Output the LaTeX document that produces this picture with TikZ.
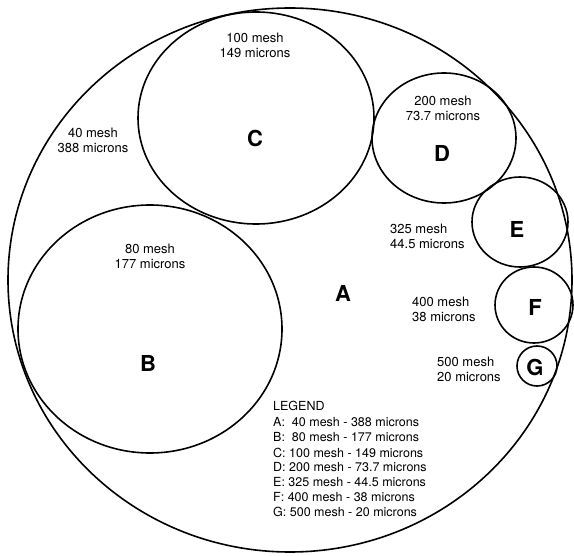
\documentclass[tikz,border=0pt]{standalone}
\usepackage{fontspec}
\setmainfont{TeX Gyre Heros}
\begin{document}
\begin{tikzpicture}[x=1pt,y=-1pt,
  ring/.style={line width=1.6pt},
  sizelabel/.style={font=\fontsize{13}{15}\selectfont, align=center, inner sep=0pt},
  sizelabelL/.style={sizelabel, align=left, anchor=west},
  letter/.style={font=\fontsize{22}{22}\selectfont\bfseries, inner sep=0pt},
  legendline/.style={font=\fontsize{12.5}{15}\selectfont, anchor=west, inner sep=0pt}]
\useasboundingbox (0,0) rectangle (574,556);

% sieve openings drawn as circles
\coordinate (cA) at (290,280);
\coordinate (cB) at (150,329);
\coordinate (cC) at (256,118);
\coordinate (cD) at (444,138);
\coordinate (cE) at (520,222);
\coordinate (cF) at (534,305);
\coordinate (cG) at (537,366);

\draw[ring] (cA) ellipse [x radius=282, y radius=272];
\draw[ring] (cB) ellipse [x radius=132, y radius=124];
\draw[ring] (cC) ellipse [x radius=118, y radius=106];
\draw[ring] (cD) ellipse [x radius=72, y radius=65];
\draw[ring] (cE) ellipse [x radius=48, y radius=45];
\draw[ring] (cF) ellipse [x radius=39, y radius=38];
\draw[ring] (cG) ellipse [x radius=20, y radius=20];

% letters
\node[letter] (lA) at (343,293) {A};
\node[letter] (lB) at (148,363) {B};
\node[letter] (lC) at (255,138) {C};
\node[letter] (lD) at (442,153) {D};
\node[letter] (lE) at (517,229) {E};
\node[letter] (lF) at (535,307) {F};
\node[letter] (lG) at (535,367) {G};

% mesh / micron labels
\node[sizelabel] (tA) at (93,140.5) {40 mesh\\388 microns};
\node[sizelabel] (tB) at (150,256) {80 mesh\\177 microns};
\node[sizelabel] (tC) at (255,45.5) {100 mesh\\149 microns};
\node[sizelabel] (tD) at (443,108) {200 mesh\\73.7 microns};
\node[sizelabelL] (tE) at (390,236) {325 mesh\\44.5 microns};
\node[sizelabelL] (tF) at (412,309.5) {400 mesh\\38 microns};
\node[sizelabelL] (tG) at (437,369) {500 mesh\\20 microns};

% legend
\node[legendline] (leg0) at (273,406) {LEGEND};
\node[legendline] (leg1) at (273,422) {A:\ \ 40 mesh - 388 microns};
\node[legendline] (leg2) at (273,437.5) {B:\ \ 80 mesh - 177 microns};
\node[legendline] (leg3) at (273,452.5) {C: 100 mesh - 149 microns};
\node[legendline] (leg4) at (273,467.5) {D: 200 mesh - 73.7 microns};
\node[legendline] (leg5) at (273,482) {E: 325 mesh - 44.5 microns};
\node[legendline] (leg6) at (273,497) {F: 400 mesh - 38 microns};
\node[legendline] (leg7) at (273,512) {G: 500 mesh - 20 microns};
\end{tikzpicture}
\end{document}
